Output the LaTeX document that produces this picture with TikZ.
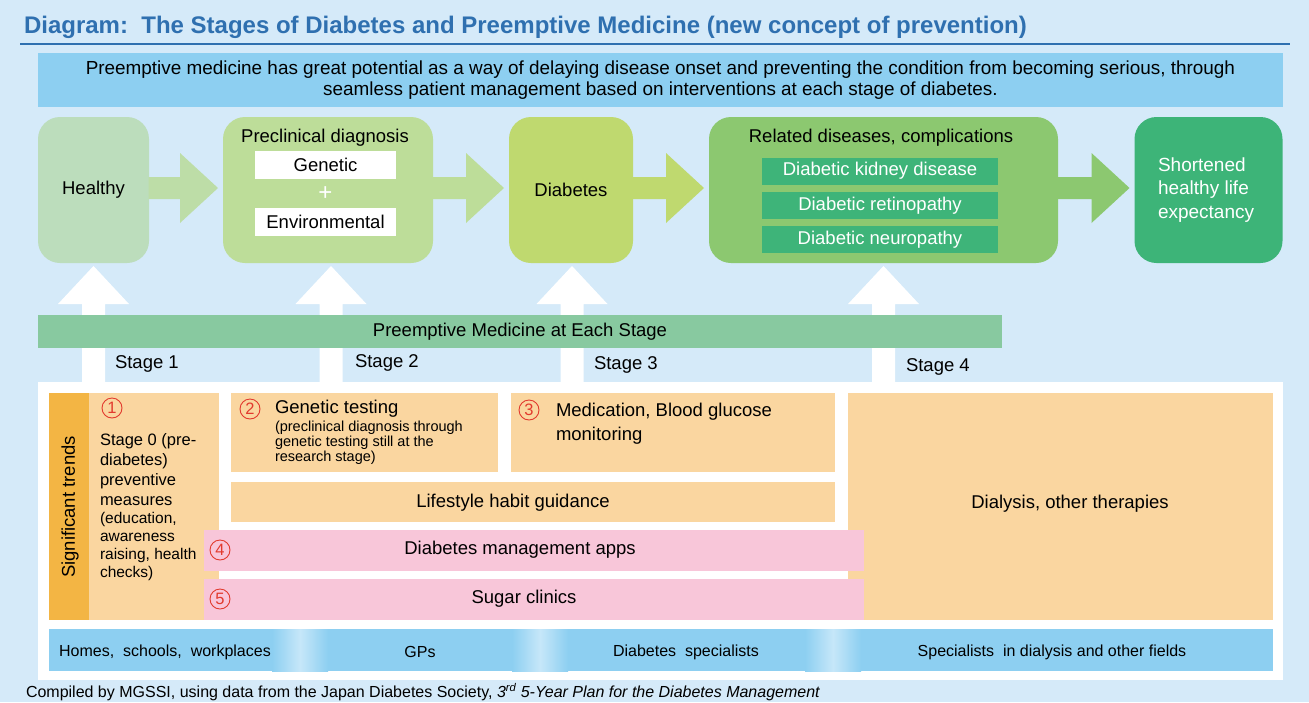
\documentclass[tikz,border=0pt]{standalone}
\usepackage{fontspec}
\setmainfont{Liberation Sans}
\usetikzlibrary{calc}

\definecolor{bgblue}{HTML}{D5EAF9}
\definecolor{titleblue}{HTML}{2F70B0}
\definecolor{skyblue}{HTML}{8DCFF1}
\definecolor{paleblue}{HTML}{C6E7F9}
\definecolor{healthyfill}{HTML}{BCDDBC}
\definecolor{preclinfill}{HTML}{BDDD99}
\definecolor{diabfill}{HTML}{BFD96F}
\definecolor{relfill}{HTML}{8CC870}
\definecolor{compfill}{HTML}{3EB479}
\definecolor{shortfill}{HTML}{3DB478}
\definecolor{bandfill}{HTML}{88C9A0}
\definecolor{peach}{HTML}{FAD6A0}
\definecolor{amber}{HTML}{F3B544}
\definecolor{pinkfill}{HTML}{F8C6D9}
\definecolor{numred}{HTML}{E23A2E}

\newcommand\fsz[2]{\fontsize{#1pt}{#2pt}\selectfont}

% right-pointing block arrow between two stage boxes
\newcommand\blockarrow[3]{%
  \fill[#3] let \p1=(#1.east), \p2=(#2.west) in
    (\x1-0.5,\y1+13) -- (\x2-43,\y1+13) -- (\x2-43,\y1+37) -- (\x2-5,\y1+2)
    -- (\x2-43,\y1-33) -- (\x2-43,\y1-9) -- (\x1-0.5,\y1-9) -- cycle;}
% upward white arrow from a base point to the bottom of a stage box
\newcommand\stagearrow[2]{%
  \fill[white] let \p1=(#1), \p2=(#2.south) in
    (\x1-11.5,\y1) -- (\x1-11.5,\y2-41) -- (\x1-35.5,\y2-41) -- (\x1,\y2-3)
    -- (\x1+35.5,\y2-41) -- (\x1+11.5,\y2-41) -- (\x1+11.5,\y1) -- cycle;}
% pale vertical streak inside the bottom bar
\newcommand\streak[1]{%
  \shade[left color=skyblue, right color=paleblue] (#1-28,629) rectangle (#1,671);
  \shade[left color=paleblue, right color=skyblue] (#1,629) rectangle (#1+28,671);}

\tikzset{
  every node/.style={inner sep=0pt, outer sep=0pt},
  stagebox/.style={rectangle, rounded corners=22pt, minimum height=146, font=\fsz{18.5}{22}},
  panel/.style={rectangle, font=\fsz{18.5}{22}},
  txt/.style={font=\fsz{18.5}{22}},
  small/.style={font=\fsz{14.5}{15}},
  num/.style={circle, draw=numred, line width=0.9pt, minimum size=20,
              text=numred, font=\fsz{16.5}{17}},
}

\begin{document}
\begin{tikzpicture}[x=1pt,y=-1pt]
\useasboundingbox (0,0) rectangle (1309,702);
\fill[bgblue] (0,0) rectangle (1309,702);

% heading
\node[anchor=west, text=titleblue, font=\bfseries\fsz{24}{28}] (title) at (24,27)
  {Diagram:\ \ The Stages of Diabetes and Preemptive Medicine (new concept of prevention)};
\draw[titleblue, line width=1.6pt] (20,44) -- (1290,44);

\node[panel, fill=skyblue, minimum width=1245, minimum height=54, align=center,
      font=\fsz{18.9}{20.5}] (intro) at (660.5,80)
  {Preemptive medicine has great potential as a way of delaying disease onset and preventing the condition from becoming serious, through\\
   seamless patient management based on interventions at each stage of diabetes.};

% stages of the disease
\node[stagebox, fill=healthyfill, minimum width=111] (healthy) at (93.5,190) {Healthy};
\node[stagebox, fill=preclinfill, minimum width=210] (preclin) at (328,190) {};
\node[stagebox, fill=diabfill, minimum width=124] (diab) at (571,190) {Diabetes};
\node[stagebox, fill=relfill, minimum width=349] (related) at (883.5,190) {};
\node[stagebox, fill=shortfill, minimum width=148] (short) at (1208.5,190) {};

\node[txt] (preclintitle) at (325,138) {Preclinical diagnosis};
\node[panel, fill=white, minimum width=141, minimum height=28] (genetic) at (325.5,165) {Genetic};
\node[text=white, font=\fsz{24}{24}] (plus) at (325.5,194) {+};
\node[panel, fill=white, minimum width=141, minimum height=28] (envir) at (325.5,222) {Environmental};

\node[txt] (reltitle) at (881,138) {Related diseases, complications};
\node[panel, fill=compfill, text=white, minimum width=236, minimum height=27] (kidney) at (880,171) {Diabetic kidney disease};
\node[panel, fill=compfill, text=white, minimum width=236, minimum height=27] (retino) at (880,205.5) {Diabetic retinopathy};
\node[panel, fill=compfill, text=white, minimum width=236, minimum height=27] (neuro) at (880,239.5) {Diabetic neuropathy};

\node[anchor=west, align=left, text=white, font=\fsz{19}{23.5}] (shorttext) at (1158,190)
  {Shortened\\healthy life\\expectancy};

\blockarrow{healthy}{preclin}{healthyfill!40!preclinfill}
\blockarrow{preclin}{diab}{preclinfill}
\blockarrow{diab}{related}{diabfill}
\blockarrow{related}{short}{relfill}

% lower panel and the stage arrows rising from it
\node[panel, fill=white, minimum width=1245, minimum height=298] (lower) at (660.5,531) {};
\coordinate (base1) at (93.5,383);
\coordinate (base2) at (331,383);
\coordinate (base3) at (572,383);
\coordinate (base4) at (883.5,383);
\stagearrow{base1}{healthy}
\stagearrow{base2}{preclin}
\stagearrow{base3}{diab}
\stagearrow{base4}{related}

\node[panel, fill=bandfill, minimum width=964, minimum height=33] (band) at (520,331.5)
  {Preemptive Medicine at Each Stage};

\node[txt, anchor=west] (st1) at (115,364) {Stage 1};
\node[txt, anchor=west] (st2) at (355,363) {Stage 2};
\node[txt, anchor=west] (st3) at (594,365) {Stage 3};
\node[txt, anchor=west] (st4) at (906,367) {Stage 4};

% significant trends
\node[panel, fill=amber, minimum width=40, minimum height=227] (trends) at (69,506.5) {};
\node[txt, rotate=90] (trendstext) at (70,507) {Significant trends};
\node[panel, fill=peach, minimum width=130, minimum height=227] (box1) at (154,506.5) {};
\node[panel, fill=peach, minimum width=267, minimum height=79] (box2) at (364.5,432.5) {};
\node[panel, fill=peach, minimum width=324, minimum height=79] (box3) at (673,432.5) {};
\node[panel, fill=peach, minimum width=604, minimum height=40] (life) at (533,502) {};
\node[panel, fill=peach, minimum width=425, minimum height=227] (dialysis) at (1060.5,506.5) {};
\node[panel, fill=pinkfill, minimum width=660, minimum height=41] (apps) at (534,550.5) {};
\node[panel, fill=pinkfill, minimum width=660, minimum height=41] (sugar) at (534,599.5) {};

\node[num] (n1) at (112,408) {1};
\node[anchor=west, align=left, font=\fsz{16.5}{20}] (b1a) at (100,470)
  {Stage 0 (pre-\\diabetes)\\preventive\\measures};
\node[anchor=west, align=left, font=\fsz{15.5}{18}] (b1b) at (100,546)
  {(education,\\awareness\\raising, health\\checks)};

\node[num] (n2) at (250,409) {2};
\node[txt, anchor=west] (b2a) at (275,409) {Genetic testing};
\node[small, anchor=west, align=left] (b2b) at (275,443)
  {(preclinical diagnosis through\\genetic testing still at the\\research stage)};

\node[num] (n3) at (529,410) {3};
\node[anchor=west, align=left, font=\fsz{18.5}{24}] (b3) at (556,424)
  {Medication, Blood glucose\\monitoring};

\node[txt] (lifetext) at (513,503) {Lifestyle habit guidance};
\node[txt] (dialtext) at (1070,504) {Dialysis, other therapies};
\node[num] (n4) at (220,550) {4};
\node[txt] (appstext) at (520,550) {Diabetes management apps};
\node[num] (n5) at (220,599) {5};
\node[txt] (sugartext) at (524,599) {Sugar clinics};

% care providers
\node[panel, fill=skyblue, minimum width=1224, minimum height=42] (providers) at (661,650) {};
\streak{300}
\streak{540}
\streak{833}
\node[font=\fsz{16}{18}] (p1) at (165,652) {Homes,\ \ schools,\ \ workplaces};
\node[font=\fsz{16}{18}] (p2) at (420,652) {GPs};
\node[font=\fsz{16}{18}] (p3) at (686,652) {Diabetes\ \ specialists};
\node[font=\fsz{16}{18}] (p4) at (1052,652) {Specialists\ \ in dialysis and other fields};

\node[anchor=west, font=\fsz{16}{18}] (source) at (26,692)
  {Compiled by MGSSI, using data from the Japan Diabetes Society, \textit{3\textsuperscript{rd} 5-Year Plan for the Diabetes Management}};
\end{tikzpicture}
\end{document}
